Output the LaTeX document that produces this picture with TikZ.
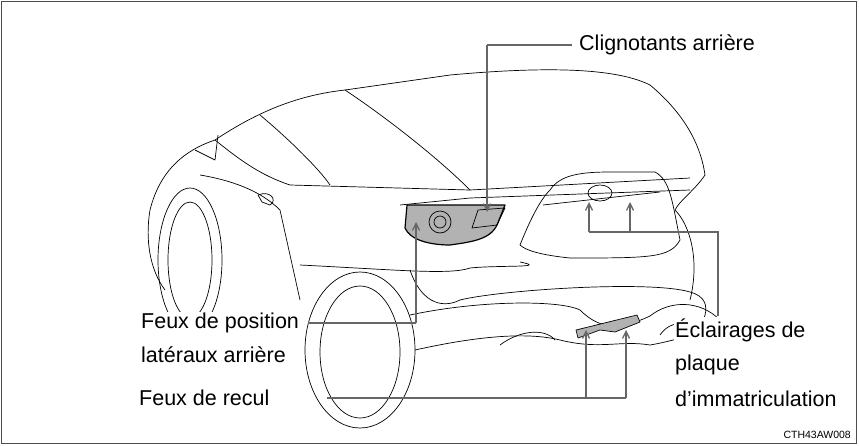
\documentclass[tikz,border=0pt]{standalone}
\usepackage{fontspec}
\setmainfont{Liberation Sans}
\usetikzlibrary{arrows.meta}
\begin{document}
\begin{tikzpicture}[x=1pt,y=-1pt,
  car/.style={black,line width=0.7pt,line join=round},
  lead/.style={draw=black!60,line width=1.3pt},
  arr/.style={lead,-{Straight Barb[length=7pt,width=7pt]}},
  lbl/.style={font=\fontsize{21.5}{24}\selectfont,inner sep=1pt,fill=white}]
\useasboundingbox (0,0) rectangle (859,445);
\draw[black!70,line width=0.8pt] (1,1) rectangle (856,443);
% car body
\draw[car] (150,210) .. controls (160,170) and (185,150) .. (215,140) .. controls (260,110) and (300,95) .. (345,90) -- (450,75) .. controls (560,65) and (620,70) .. (650,85) .. controls (680,110) and (700,140) .. (705,175);
\draw[car] (345,90) .. controls (390,120) and (440,160) .. (470,190);
\draw[car] (470,190) -- (690,178);
\draw[car] (705,175) .. controls (695,190) and (680,200) .. (675,210) .. controls (690,225) and (700,260) .. (690,300);
\draw[car] (400,205) -- (470,198) -- (690,190);
\draw[car] (150,210) .. controls (145,240) and (150,270) .. (165,290);
\draw[car] (215,140) .. controls (240,160) and (260,175) .. (290,185) -- (470,190);
\draw[car] (260,115) .. controls (290,140) and (320,170) .. (330,185);
\draw[car] (200,175) .. controls (230,180) and (260,190) .. (280,210) -- (300,300);
\draw[car] (195,150) -- (215,160) -- (218,135);
\draw[car] (258,195) .. controls (270,190) and (278,200) .. (270,205) -- (262,202) -- cycle;
% wheels
\draw[car] (190,260) ellipse [x radius=32, y radius=72];
\draw[car] (190,260) ellipse [x radius=22, y radius=58];
\draw[car] (360,350) ellipse [x radius=55, y radius=78];
\draw[car] (360,352) ellipse [x radius=40, y radius=66];
% plate recess
\draw[car] (550,190) .. controls (560,175) and (580,172) .. (610,172) -- (655,172) .. controls (670,180) and (672,200) .. (680,240) .. controls (670,258) and (650,258) .. (570,258) .. controls (540,255) and (525,250) .. (520,245) .. controls (530,220) and (540,200) .. (550,190);
\draw[car] (543,205) -- (660,192);
\draw[car] (600,193) ellipse [x radius=12, y radius=8];
% bumper
\draw[car] (300,265) .. controls (400,270) and (450,275) .. (470,268) .. controls (500,265) and (550,268) .. (520,262);
\draw[car] (410,270) .. controls (420,300) and (440,310) .. (460,300) .. controls (500,290) and (650,280) .. (690,292) .. controls (720,300) and (700,330) .. (690,340);
\draw[car] (410,315) .. controls (480,300) and (560,300) .. (580,310) .. controls (600,330) and (620,330) .. (650,316) .. controls (670,300) and (700,300) .. (720,320);
\draw[car] (415,350) .. controls (460,340) and (520,330) .. (560,340) .. controls (600,350) and (620,340) .. (650,345) .. controls (680,340) and (700,330) .. (690,340);
\draw[car] (500,345) .. controls (520,330) and (545,328) .. (555,340);
\draw[car] (660,335) .. controls (670,320) and (690,320) .. (695,335);
% tail light
\draw[car,line width=1.2pt,fill=black!30] (407,205) -- (505,205) -- (497,225) .. controls (490,240) and (470,242) .. (450,245) .. controls (430,245) and (410,240) .. (405,228) -- cycle;
\draw[car] (440,222) circle (11);
\draw[car] (440,222) circle (6);
\draw[car] (478,210) -- (505,208) -- (497,225) -- (472,228) -- cycle;
% backup light
\draw[car,fill=black!30] (576,330) -- (637,315) -- (640,322) -- (615,332) -- (600,330) -- (578,338) -- cycle;
% labels
\node[lbl,anchor=west] (cl) at (578,45) {Clignotants arrière};
\node[lbl,anchor=west] (fp) at (140,323) {Feux de position};
\node[lbl,anchor=west] (fp2) at (140,355) {latéraux arrière};
\node[lbl,anchor=west] (fr) at (138,398) {Feux de recul};
\node[lbl,anchor=west] (ec) at (674,330) {Éclairages de};
\node[lbl,anchor=west] (ec2) at (674,365) {plaque};
\node[lbl,anchor=west] (ec3) at (674,399) {d'immatriculation};
\node[font=\fontsize{10.5}{11}\selectfont,anchor=south east,inner sep=1pt] (code) at (852,440) {CTH43AW008};
% leaders
\coordinate (c1) at (487,212);
\draw[lead] (572,45) -- (487,45);
\draw[arr] (487,45) -- (c1);
\coordinate (p1) at (416,222);
\draw[lead] (308,323) -- (416,323);
\draw[arr] (416,323) -- (p1);
\coordinate (e1) at (589,202);
\coordinate (e2) at (630,202);
\draw[lead] (718,316) -- (718,232) -- (589,232);
\draw[arr] (589,232) -- (e1);
\draw[arr] (630,232) -- (e2);
\coordinate (r1) at (586,330);
\coordinate (r2) at (626,330);
\draw[lead] (327,398) -- (626,398);
\draw[arr] (586,398) -- (r1);
\draw[arr] (626,398) -- (r2);
\end{tikzpicture}
\end{document}
